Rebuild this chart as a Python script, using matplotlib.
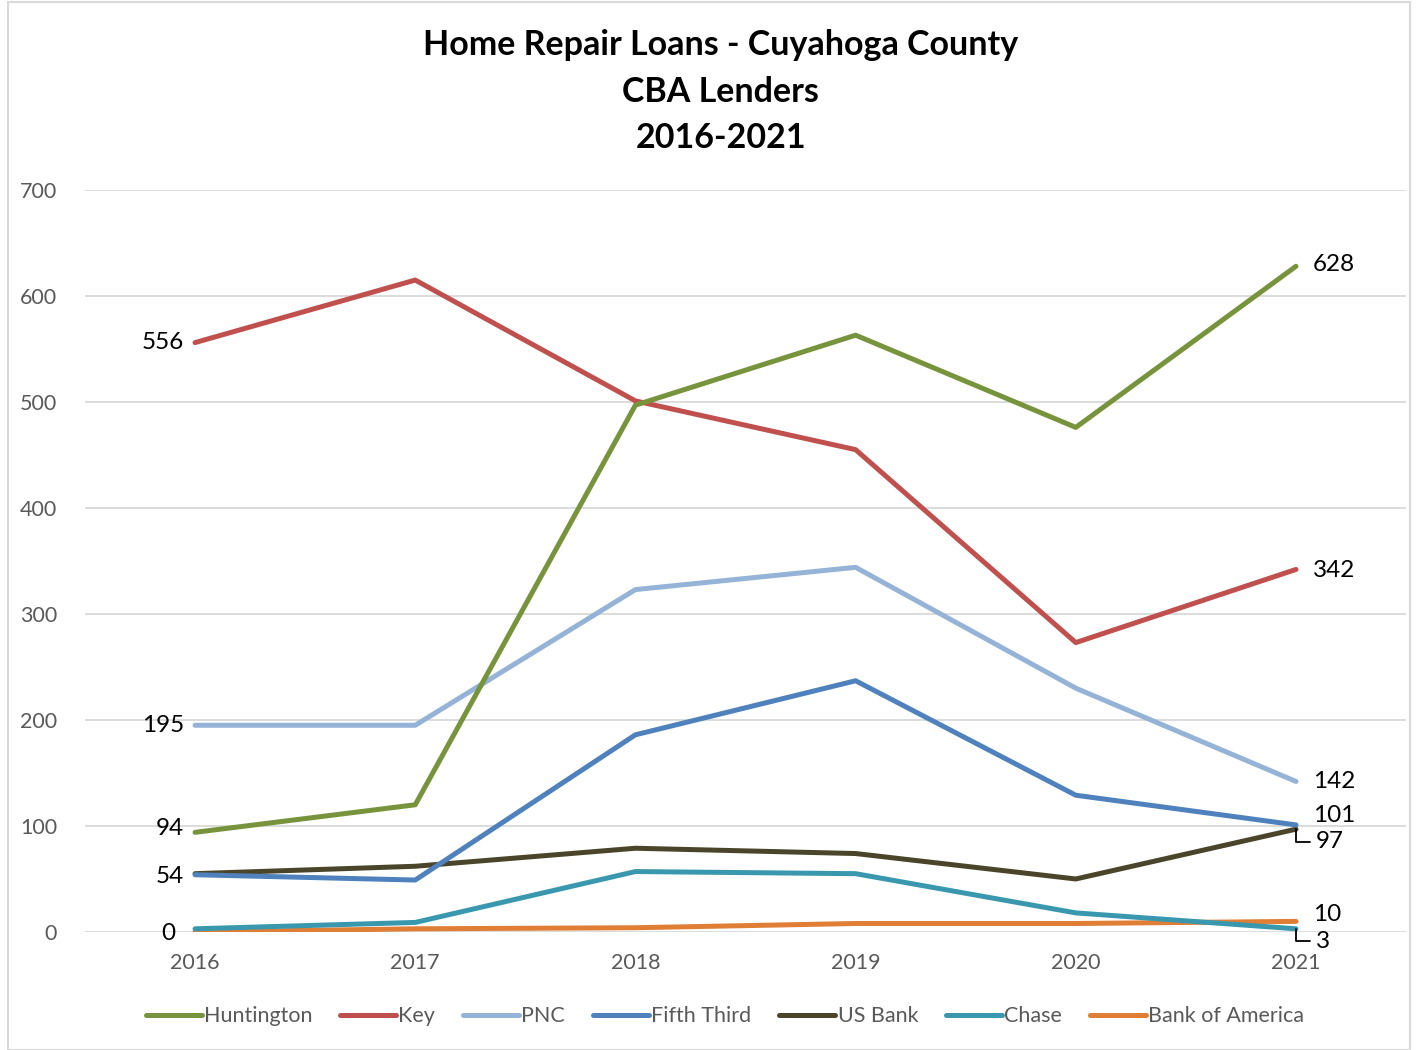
import matplotlib
matplotlib.use("Agg")
import matplotlib.pyplot as plt
from matplotlib.patches import Rectangle

years = ["2016", "2017", "2018", "2019", "2020", "2021"]
huntington = [94, 120, 497, 563, 476, 628]
key = [556, 615, 501, 455, 273, 342]
pnc = [195, 195, 323, 344, 230, 142]
fifth_third = [54, 49, 186, 237, 129, 101]
us_bank = [55, 62, 79, 74, 50, 97]
chase = [3, 9, 57, 55, 18, 3]
bank_of_america = [0, 3, 4, 8, 8, 10]

series = [
    ("Huntington", huntington, "#77933C"),
    ("Key", key, "#C0504D"),
    ("PNC", pnc, "#95B3D7"),
    ("Fifth Third", fifth_third, "#4F81BD"),
    ("US Bank", us_bank, "#4A452A"),
    ("Chase", chase, "#3A98AE"),
    ("Bank of America", bank_of_america, "#E07E36"),
]

plt.rcParams["font.family"] = ["Lato", "DejaVu Sans"]

fig = plt.figure(figsize=(14.16, 10.5), dpi=100, facecolor="white")
ax = fig.add_axes([0.060, 0.1124, 0.933, 0.7067])
x = list(range(len(years)))

# back to front so Huntington sits on top
for name, vals, col in reversed(series):
    ax.plot(x, vals, color=col, lw=3.6, solid_capstyle="round", label=name, zorder=3)

ax.set_xlim(-0.5, 5.5)
ax.set_ylim(0, 700)
ax.set_yticks(range(0, 701, 100))
ax.set_xticks(x)
ax.set_xticklabels(years)
ax.grid(axis="y", color="#d9d9d9", lw=1.3, zorder=0)
for s in ax.spines.values():
    s.set_visible(False)
ax.tick_params(length=0, labelsize=15.5, colors="#595959")
ax.tick_params(axis="x", pad=15)
ax.tick_params(axis="y", pad=20)

# data labels at the left end
left_labels = [(key, 556, 0, -8), (pnc, 195, 0, -8), (huntington, 94, 3, -8),
               (us_bank, 54, -2, -8), (bank_of_america, 0, -1, -14)]
for vals, txt, dy, dx in left_labels:
    ax.annotate(str(txt), (0, vals[0]), xytext=(dx, dy), textcoords="offset points",
                ha="right", va="center", fontsize=17.5, color="black")

# data labels at the right end
right_labels = [(huntington, 1), (key, -1), (pnc, 0), (fifth_third, 7), (bank_of_america, 5)]
for vals, dy in right_labels:
    ax.annotate(str(vals[-1]), (5, vals[-1]), xytext=(12, dy), textcoords="offset points",
                ha="left", va="center", fontsize=17.5, color="black")

# labels with leader lines
for vals in (us_bank, chase):
    ax.annotate(str(vals[-1]), (5, vals[-1]), xytext=(14, -9), textcoords="offset points",
                ha="left", va="center", fontsize=17.5, color="black",
                arrowprops=dict(arrowstyle="-", color="black", lw=1.3,
                                connectionstyle="angle,angleA=0,angleB=90,rad=0",
                                shrinkA=2, shrinkB=0))

fig.text(0.509, 0.972, "Home Repair Loans - Cuyahoga County\nCBA Lenders\n2016-2021",
         ha="center", va="top", fontsize=24.5, fontweight="bold", linespacing=1.55)

handles, labels = ax.get_legend_handles_labels()
leg = fig.legend(handles[::-1], labels[::-1], loc="center", bbox_to_anchor=(0.512, 0.032),
                 ncol=7, frameon=False, fontsize=15.5, handlelength=2.6,
                 handletextpad=0.1, columnspacing=1.3)
for t in leg.get_texts():
    t.set_color("#595959")

fig.patches.append(Rectangle((0.006, 0.0), 0.99, 0.998, transform=fig.transFigure,
                             fill=False, edgecolor="#d9d9d9", lw=1.5))

fig.savefig("out.png", dpi=100, facecolor="white")
